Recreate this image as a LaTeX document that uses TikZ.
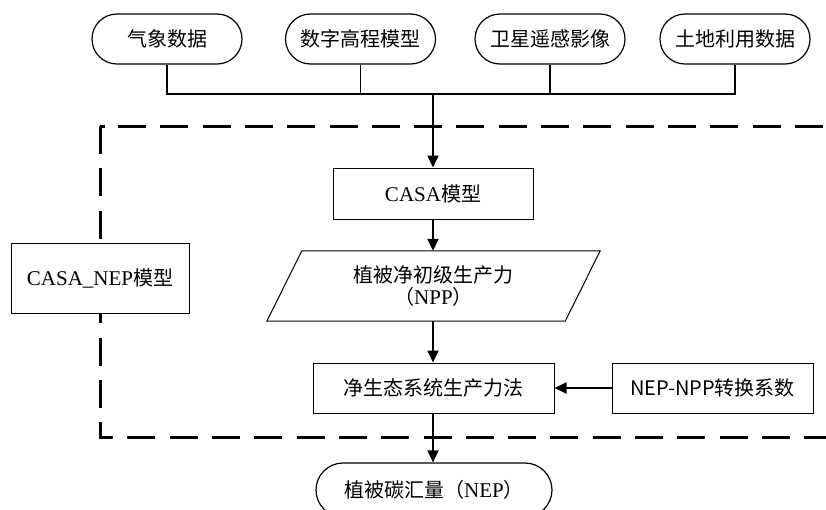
\documentclass[tikz,border=0pt]{standalone}
\usepackage{fontspec}
\setmainfont{Liberation Serif}
\newfontfamily\cjk{Noto Sans CJK SC}
\usetikzlibrary{arrows.meta}
\newcommand{\lat}[1]{{\rmfamily\fontsize{21}{22}\selectfont #1}}
\tikzset{
  pill/.style={draw, line width=1.2pt, rounded corners=25pt, minimum width=150pt, minimum height=50pt, inner sep=0pt, fill=white, font=\cjk\fontsize{20}{22}\selectfont},
  boxnode/.style={draw, line width=1pt, inner sep=0pt, fill=white, font=\cjk\fontsize{20}{22}\selectfont},
  conn/.style={line width=1.8pt},
  arr/.style={conn, -{Triangle[length=12pt,width=11pt]}},
  dashline/.style={line width=3pt, dash pattern=on 28pt off 14.3pt, line cap=butt, line join=miter}
}
\begin{document}
\begin{tikzpicture}[x=1pt,y=-1pt]
\useasboundingbox (0,0) rectangle (826,509);
\clip (0,0) rectangle (826,509);
\fill[white] (0,0) rectangle (826,509);

% dashed frame
\draw[dashline] (118,126) -- (840,126);
\draw[line width=3pt] (100,126) -- (105,126);
\draw[dashline] (100,126) -- (100,437) -- (840,437);

% input pills
\node[pill] (p1) at (167,39) {气象数据};
\node[pill] (p2) at (360.5,39) {数字高程模型};
\node[pill] (p3) at (550,39) {卫星遥感影像};
\node[pill] (p4) at (735,39) {土地利用数据};
\coordinate (bus) at (433,94);

% model boxes
\node[boxnode, minimum width=200pt, minimum height=51pt] (casa) at (433,193.5) {\lat{CASA}模型};
\node[boxnode, minimum width=178pt, minimum height=70pt] (nepm) at (100,278) {\lat{CASA\_NEP}模型};

% parallelogram
\node[minimum width=298pt, minimum height=70pt, inner sep=0pt, align=center, font=\cjk\fontsize{20}{22}\selectfont] (npp) at (433.5,286) {植被净初级生产力\\（\lat{NPP}）};
\draw[line width=1pt] ([xshift=17.5pt]npp.north west) -- ([xshift=17.5pt]npp.north east) -- ([xshift=-17.5pt]npp.south east) -- ([xshift=-17.5pt]npp.south west) -- cycle;

\node[boxnode, minimum width=241pt, minimum height=50pt] (jst) at (433.5,388) {净生态系统生产力法};
\node[boxnode, minimum width=201pt, minimum height=50pt] (conv) at (712.5,388) {NEP-NPP转换系数};
\node[pill, minimum width=236pt, minimum height=54pt, rounded corners=27pt] (nep) at (434,490) {植被碳汇量（\lat{NEP}）};

% connectors
\draw[conn] (p1.south) -- (p1.south |- bus) -- (p4.south |- bus) -- (p4.south);
\draw[conn] (p2.south) -- (p2.south |- bus);
\draw[conn] (p3.south) -- (p3.south |- bus);
\draw[arr] (bus) -- (bus |- casa.north);
\draw[arr] (casa.south) -- (casa.south |- npp.north);
\draw[arr] (casa.south |- npp.south) -- (casa.south |- jst.north);
\draw[arr] (conv.west) -- (jst.east);
\draw[arr] (casa.south |- jst.south) -- (casa.south |- nep.north);
\end{tikzpicture}
\end{document}
